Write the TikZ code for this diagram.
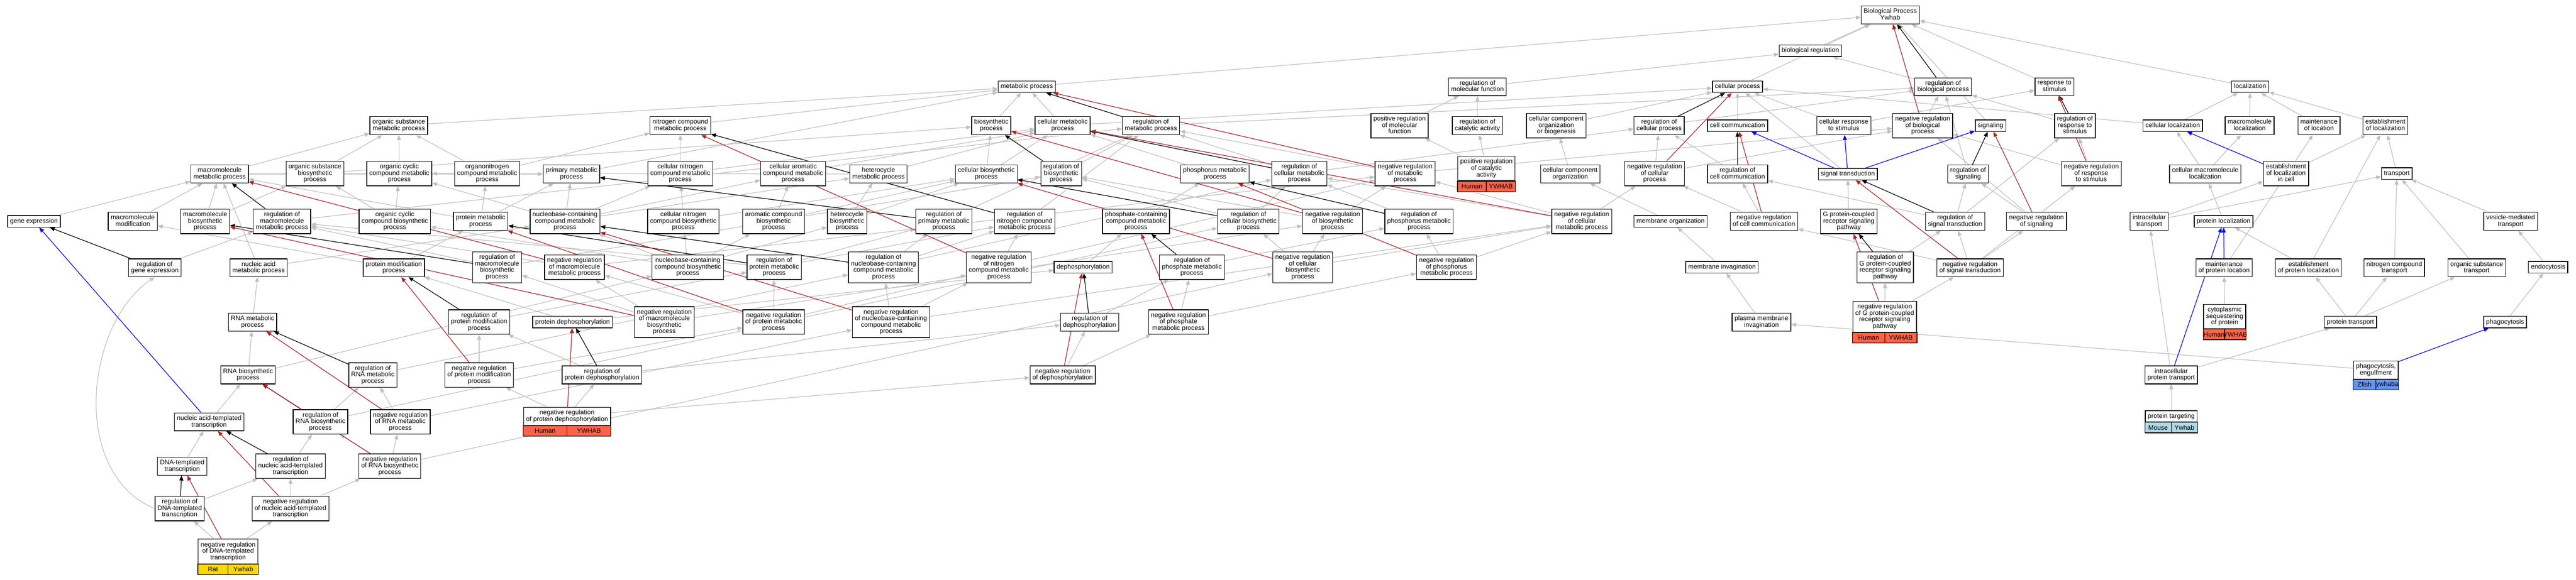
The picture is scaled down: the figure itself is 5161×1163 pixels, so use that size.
\documentclass[tikz,border=0pt]{standalone}
\usepackage{xcolor}
\usepackage{fontspec}
\setmainfont{Liberation Sans}
\usetikzlibrary{arrows.meta}
\usetikzlibrary{calc}
\usetikzlibrary{backgrounds}
\definecolor{isagray}{RGB}{192,192,192}
\definecolor{negred}{RGB}{178,34,34}
\definecolor{ratgold}{RGB}{255,215,0}
\definecolor{humanred}{RGB}{255,99,71}
\definecolor{fishblue}{RGB}{100,149,237}
\definecolor{mouseblue}{RGB}{173,216,230}
\newcommand{\gofont}{\fontsize{13}{13}\selectfont}
\newcommand{\gostrut}{\rule[-3pt]{0pt}{12.5pt}}
\tikzset{term/.style={draw=black, line width=1.4pt, fill=white, align=center, inner xsep=5pt, inner ysep=5.25pt, font=\gofont, execute at begin node=\gostrut, execute at end node=\gostrut}}
\tikzset{rowtext/.style={inner sep=0pt, font=\gofont}}
\tikzset{cellrow/.style={draw=black, line width=1.4pt}}
\tikzset{isa/.style={isagray, line width=1.3pt, -{Triangle[length=10pt, width=8pt]}}}
\tikzset{regs/.style={black, line width=1.3pt, -{Triangle[length=10pt, width=8pt]}}}
\tikzset{negregs/.style={negred, line width=1.3pt, -{Triangle[length=10pt, width=8pt]}}}
\tikzset{partof/.style={blue, line width=1.3pt, -{Triangle[length=10pt, width=8pt]}}}
% species row under an annotated term
\newcommand{\speciesrow}[4]{%
  \draw[cellrow, fill=#2] (#1.south west) rectangle ([yshift=-21pt]#1.south);
  \draw[cellrow, fill=#2] (#1.south) rectangle ([yshift=-21pt]#1.south east);
  \node[rowtext] (#1-sp) at ($(#1.south west)!0.5!([yshift=-21pt]#1.south)$) {#3};
  \node[rowtext] (#1-gene) at ($(#1.south)!0.5!([yshift=-21pt]#1.south east)$) {#4};}

\begin{document}
\begin{tikzpicture}[x=1pt, y=-1pt]
  \useasboundingbox (0,0) rectangle (5161,1163);
  %Top
  \node[term] (bp) at (3787,30) {Biological Process\\Ywhab};
  \node[term] (bioreg) at (3627,102) {biological regulation};
  \node[term] (metab) at (2057,174) {metabolic process};
  \node[term] (regmf) at (2960,174) {regulation of\\molecular function};
  \node[term] (cellp) at (3481,174) {cellular process};
  \node[term] (regbp) at (3893,174) {regulation of\\biological process};
  \node[term] (resp) at (4116,174) {response to\\stimulus};
  \node[term] (loc) at (4508,174) {localization};
  %Row 2
  \node[term] (osmp) at (799,252) {organic substance\\metabolic process};
  \node[term] (ncmp) at (1363,252) {nitrogen compound\\metabolic process};
  \node[term] (biosyn) at (1986,252) {biosynthetic\\process};
  \node[term] (cmp) at (2129,252) {cellular metabolic\\process};
  \node[term] (regmp) at (2306,252) {regulation of\\metabolic process};
  \node[term] (posregmf) at (2804,252) {positive regulation\\of molecular\\function};
  \node[term] (regcat) at (2960,252) {regulation of\\catalytic activity};
  \node[term] (ccob) at (3118,252) {cellular component\\organization\\or biogenesis};
  \node[term] (regcp) at (3324,252) {regulation of\\cellular process};
  \node[term] (cellcom) at (3481,252) {cell communication};
  \node[term] (cresp) at (3694,252) {cellular response\\to stimulus};
  \node[term] (negregbp) at (3852,252) {negative regulation\\of biological\\process};
  \node[term] (signaling) at (3988,252) {signaling};
  \node[term] (regresp) at (4157,252) {regulation of\\response to\\stimulus};
  \node[term] (cloc) at (4353,252) {cellular localization};
  \node[term] (mloc) at (4507,252) {macromolecule\\localization};
  \node[term] (mainloc) at (4646,252) {maintenance\\of location};
  \node[term] (estloc) at (4779,252) {establishment\\of localization};
  %Row 3
  \node[term] (mmp) at (440,349) {macromolecule\\metabolic process};
  \node[term] (osbp) at (631,348) {organic substance\\biosynthetic\\process};
  \node[term] (occmp) at (800,348) {organic cyclic\\compound metabolic\\process};
  \node[term] (oncmp) at (976,348) {organonitrogen\\compound metabolic\\process};
  \node[term] (pmp) at (1145,349) {primary metabolic\\process};
  \node[term] (cncmp) at (1363,348) {cellular nitrogen\\compound metabolic\\process};
  \node[term] (camp) at (1589,348) {cellular aromatic\\compound metabolic\\process};
  \node[term] (hmp) at (1760,349) {heterocycle\\metabolic process};
  \node[term] (cbp) at (1976,349) {cellular biosynthetic\\process};
  \node[term] (regbiosyn) at (2126,348) {regulation of\\biosynthetic\\process};
  \node[term] (phmp) at (2434,349) {phosphorus metabolic\\process};
  \node[term] (regcmp) at (2603,348) {regulation of\\cellular metabolic\\process};
  \node[term] (negregmp) at (2815,348) {negative regulation\\of metabolic\\process};
  \node[term] (posregcat) at (2978,338) {positive regulation\\of catalytic\\activity};
  \node[term] (cco) at (3146,349) {cellular component\\organization};
  \node[term] (negregcp) at (3315,348) {negative regulation\\of cellular\\process};
  \node[term] (regcc) at (3481,349) {regulation of\\cell communication};
  \node[term] (sigtr) at (3702,349) {signal transduction};
  \node[term] (regsig) at (3943,349) {regulation of\\signaling};
  \node[term] (negregresp) at (4190,348) {negative regulation\\of response\\to stimulus};
  \node[term] (cmloc) at (4418,349) {cellular macromolecule\\localization};
  \node[term] (estlocc) at (4580,348) {establishment\\of localization\\in cell};
  \node[term] (transport) at (4802,348) {transport};
  %Row 4
  \node[term] (geneexp) at (68,444) {gene expression};
  \node[term] (mmod) at (266,444) {macromolecule\\modification};
  \node[term] (mbp) at (411,444) {macromolecule\\biosynthetic\\process};
  \node[term] (regmmp) at (565,444) {regulation of\\macromolecule\\metabolic process};
  \node[term] (occbp) at (791,444) {organic cyclic\\compound biosynthetic\\process};
  \node[term] (protmp) at (963,444) {protein metabolic\\process};
  \node[term] (nbcmp) at (1132,444) {nucleobase-containing\\compound metabolic\\process};
  \node[term] (cncbp) at (1369,444) {cellular nitrogen\\compound biosynthetic\\process};
  \node[term] (acbp) at (1550,444) {aromatic compound\\biosynthetic\\process};
  \node[term] (hbp) at (1697,444) {heterocycle\\biosynthetic\\process};
  \node[term] (regpmp) at (1891,444) {regulation of\\primary metabolic\\process};
  \node[term] (regncmp) at (2053,444) {regulation of\\nitrogen compound\\metabolic process};
  \node[term] (pcmp) at (2276,444) {phosphate-containing\\compound metabolic\\process};
  \node[term] (regcbp) at (2501,444) {regulation of\\cellular biosynthetic\\process};
  \node[term] (negregbiosyn) at (2670,444) {negative regulation\\of biosynthetic\\process};
  \node[term] (regphmp) at (2843,444) {regulation of\\phosphorus metabolic\\process};
  \node[term] (negregcmp) at (3169,444) {negative regulation\\of cellular\\metabolic process};
  \node[term] (memorg) at (3347,444) {membrane organization};
  \node[term] (negregcc) at (3534,444) {negative regulation\\of cell communication};
  \node[term] (gpcr) at (3704,444) {G protein-coupled\\receptor signaling\\pathway};
  \node[term] (regsigtr) at (3917,444) {regulation of\\signal transduction};
  \node[term] (negregsig) at (4080,444) {negative regulation\\of signaling};
  \node[term] (inttr) at (4306,444) {intracellular\\transport};
  \node[term] (protloc) at (4455,444) {protein localization};
  \node[term] (vesic) at (5030,444) {vesicle-mediated\\transport};
  %Row 5
  \node[term] (reggene) at (310,537) {regulation of\\gene expression};
  \node[term] (namp) at (518,537) {nucleic acid\\metabolic process};
  \node[term] (pmod) at (789,537) {protein modification\\process};
  \node[term] (regmbp) at (996,536) {regulation of\\macromolecule\\biosynthetic\\process};
  \node[term] (negregmmp) at (1151,536) {negative regulation\\of macromolecule\\metabolic process};
  \node[term] (nbcbp) at (1378,536) {nucleobase-containing\\compound biosynthetic\\process};
  \node[term] (regprotmp) at (1551,536) {regulation of\\protein metabolic\\process};
  \node[term] (regnbcmp) at (1770,536) {regulation of\\nucleobase-containing\\compound metabolic\\process};
  \node[term] (negregncmp) at (2001,536) {negative regulation\\of nitrogen\\compound metabolic\\process};
  \node[term] (dephos) at (2170,536) {dephosphorylation};
  \node[term] (regphos) at (2388,536) {regulation of\\phosphate metabolic\\process};
  \node[term] (negregcbp) at (2610,536) {negative regulation\\of cellular\\biosynthetic\\process};
  \node[term] (negregphmp) at (2898,536) {negative regulation\\of phosphorus\\metabolic process};
  \node[term] (meminv) at (3450,536) {membrane invagination};
  \node[term] (reggpcr) at (3777,536) {regulation of\\G protein-coupled\\receptor signaling\\pathway};
  \node[term] (negregsigtr) at (3947,537) {negative regulation\\of signal transduction};
  \node[term] (mainprot) at (4456,537) {maintenance\\of protein location};
  \node[term] (estprot) at (4625,537) {establishment\\of protein localization};
  \node[term] (nctr) at (4797,537) {nitrogen compound\\transport};
  \node[term] (ostr) at (4962,537) {organic substance\\transport};
  \node[term] (endo) at (5105,536) {endocytosis};
  %Row 6
  \node[term] (rnamp) at (506,646) {RNA metabolic\\process};
  \node[term] (regpmod) at (960,646) {regulation of\\protein modification\\process};
  \node[term] (protdephos) at (1147,646) {protein dephosphorylation};
  \node[term] (negregmbp) at (1331,646) {negative regulation\\of macromolecule\\biosynthetic\\process};
  \node[term] (negregprotmp) at (1550,646) {negative regulation\\of protein metabolic\\process};
  \node[term] (negregnbcmp) at (1785,646) {negative regulation\\of nucleobase-containing\\compound metabolic\\process};
  \node[term] (regdephos) at (2183,646) {regulation of\\dephosphorylation};
  \node[term] (negregphos) at (2361,646) {negative regulation\\of phosphate\\metabolic process};
  \node[term] (pmeminv) at (3529,646) {plasma membrane\\invagination};
  \node[term] (negreggpcr) at (3776,635) {negative regulation\\of G protein-coupled\\receptor signaling\\pathway};
  \node[term] (cytoseq) at (4457,635) {cytoplasmic\\sequestering\\of protein};
  \node[term] (prottr) at (4709,646) {protein transport};
  \node[term] (phago) at (5019,646) {phagocytosis};
  %Row 7
  \node[term] (rnabp) at (497,752) {RNA biosynthetic\\process};
  \node[term] (regrnamp) at (747,752) {regulation of\\RNA metabolic\\process};
  \node[term] (negregpmod) at (960,752) {negative regulation\\of protein modification\\process};
  \node[term] (regprotdephos) at (1206,752) {regulation of\\protein dephosphorylation};
  \node[term] (negregdephos) at (2129,752) {negative regulation\\of dephosphorylation};
  \node[term] (intprottr) at (4350,752) {intracellular\\protein transport};
  \node[term] (engulf) at (4760,742) {phagocytosis,\\engulfment};
  %Row 8
  \node[term] (natr) at (419,846) {nucleic acid-templated\\transcription};
  \node[term] (regrnabp) at (642,846) {regulation of\\RNA biosynthetic\\process};
  \node[term] (negregrnamp) at (802,846) {negative regulation\\of RNA metabolic\\process};
  \node[term] (negregprotdephos) at (1136,835) {negative regulation\\of protein dephosphorylation};
  \node[term] (prottarg) at (4350,835) {protein targeting};
  %Rows 9-11
  \node[term] (dnatr) at (365,935) {DNA-templated\\transcription};
  \node[term] (regnatr) at (582,935) {regulation of\\nucleic acid-templated\\transcription};
  \node[term] (negregrnabp) at (781,935) {negative regulation\\of RNA biosynthetic\\process};
  \node[term] (regdnatr) at (360,1020) {regulation of\\DNA-templated\\transcription};
  \node[term] (negregnatr) at (582,1020) {negative regulation\\of nucleic acid-templated\\transcription};
  \node[term] (negregdnatr) at (457,1106) {negative regulation\\of DNA-templated\\transcription};
  %Species rows
  \speciesrow{negregdnatr}{ratgold}{Rat}{Ywhab}
  \speciesrow{negregprotdephos}{humanred}{Human}{YWHAB}
  \speciesrow{posregcat}{humanred}{Human}{YWHAB}
  \speciesrow{negreggpcr}{humanred}{Human}{YWHAB}
  \speciesrow{cytoseq}{humanred}{Human}{YWHAB}
  \speciesrow{engulf}{fishblue}{Zfish}{ywhaba}
  \speciesrow{prottarg}{mouseblue}{Mouse}{Ywhab}
  %Edges
  \begin{scope}[on background layer]
    \foreach \a/\b in {bioreg/bp, cellp/bp, metab/bp, resp/bp, loc/bp, signaling/bp,
      regbp/bioreg, regmf/bioreg, osmp/metab, ncmp/metab, biosyn/metab, cmp/metab, pmp/metab,
      cmp/cellp, regmp/regbp, posregmf/regmf, regcat/regmf, ccob/cellp, regcp/regbp, cellcom/cellp,
      cresp/resp, cresp/cellp, negregbp/regbp, regresp/regbp, cloc/loc, cloc/cellp, mloc/loc,
      mainloc/loc, estloc/loc, mmp/osmp, mmp/pmp, osbp/osmp, osbp/biosyn, occmp/osmp, oncmp/osmp,
      oncmp/ncmp, cncmp/ncmp, cncmp/cmp, camp/cmp, hmp/occmp, hmp/cmp, cbp/biosyn, cbp/cmp,
      regbiosyn/regmp, phmp/cmp, regcmp/regmp, regcmp/regcp, negregmp/regmp, negregmp/negregbp,
      posregcat/regcat, posregcat/posregmf, cco/ccob, negregcp/regcp, negregcp/negregbp, regcc/regcp,
      sigtr/cellp, regsig/regbp, negregresp/regresp, negregresp/negregbp, cmloc/cloc, cmloc/mloc,
      estlocc/estloc, transport/estloc, geneexp/mmp, mmod/mmp, mbp/mmp, mbp/osbp, regmmp/regmp,
      occbp/occmp, occbp/osbp, protmp/oncmp, protmp/pmp, protmp/mmp, nbcmp/pmp, nbcmp/cncmp,
      nbcmp/camp, nbcmp/hmp, nbcmp/occmp, cncbp/cncmp, cncbp/cbp, acbp/camp, acbp/cbp, hbp/hmp,
      hbp/cbp, regpmp/regmp, regncmp/regmp, pcmp/phmp, regcbp/regbiosyn, regcbp/regcmp,
      negregbiosyn/regbiosyn, negregbiosyn/negregmp, regphmp/regcmp, negregcmp/negregcp,
      negregcmp/regcmp, negregcmp/negregmp, memorg/cco, negregcc/regcc, negregcc/negregcp,
      gpcr/sigtr, regsigtr/regcc, regsigtr/regsig, regsigtr/regresp, negregsig/regsig,
      negregsig/negregbp, inttr/transport, inttr/estlocc, protloc/cmloc, vesic/transport,
      reggene/regmmp, namp/nbcmp, namp/mmp, pmod/protmp, pmod/mmod, regmbp/regmmp, regmbp/regbiosyn,
      negregmmp/regmmp, negregmmp/negregmp, nbcbp/nbcmp, nbcbp/cncbp, nbcbp/acbp, nbcbp/hbp,
      nbcbp/occbp, regprotmp/regmmp, regprotmp/regpmp, regprotmp/regncmp, regnbcmp/regcmp,
      regnbcmp/regncmp, regnbcmp/regpmp, negregncmp/regncmp, negregncmp/negregmp, dephos/pcmp,
      regphos/regphmp, negregcbp/regcbp, negregcbp/negregbiosyn, negregcbp/negregcmp,
      negregphmp/regphmp, negregphmp/negregcmp, meminv/memorg, reggpcr/regsigtr,
      negregsigtr/regsigtr, negregsigtr/negregsig, negregsigtr/negregcc, negregsigtr/negregresp,
      mainprot/mainloc, estprot/protloc, estprot/estloc, nctr/transport, ostr/transport, endo/vesic,
      rnamp/namp, regpmod/regprotmp, protdephos/pmod, protdephos/dephos, negregmbp/regmbp,
      negregmbp/negregmmp, negregmbp/negregbiosyn, negregprotmp/regprotmp, negregprotmp/negregmmp,
      negregprotmp/negregncmp, negregnbcmp/regnbcmp, negregnbcmp/negregcmp, negregnbcmp/negregncmp,
      regdephos/regphos, negregphos/regphos, negregphos/negregphmp, pmeminv/meminv,
      negreggpcr/reggpcr, negreggpcr/negregsigtr, cytoseq/mainprot, prottr/estprot, prottr/nctr,
      prottr/ostr, phago/endo, rnabp/rnamp, rnabp/nbcbp, regrnamp/regnbcmp, negregpmod/regpmod,
      negregpmod/negregprotmp, regprotdephos/regpmod, regprotdephos/regdephos,
      negregdephos/regdephos, negregdephos/negregphos, intprottr/prottr, intprottr/inttr,
      engulf/pmeminv, natr/rnabp, regrnabp/regrnamp, regrnabp/regcbp, negregrnamp/regrnamp,
      negregrnamp/negregnbcmp, negregprotdephos/regprotdephos, negregprotdephos/negregpmod,
      negregprotdephos/negregdephos, prottarg/intprottr, dnatr/natr, regnatr/regrnabp,
      negregrnabp/regrnabp, negregrnabp/negregrnamp, negregrnabp/negregcbp, regdnatr/regnatr,
      negregnatr/regnatr, negregnatr/negregrnabp, negregdnatr/regdnatr,
      negregdnatr/negregnatr}
      \draw[isa] (\a) -- (\b);
    \draw[isa] (regdnatr.west) .. controls (140,950) and (170,650) .. (reggene.south);
    \foreach \a/\b in {regbp/bp, regmp/metab, regcp/cellp, regresp/resp, regbiosyn/biosyn,
      regcmp/cmp, regcc/cellcom, regsig/signaling, regmmp/mmp, regpmp/pmp, regncmp/ncmp,
      regcbp/cbp, regphmp/phmp, regsigtr/sigtr, reggene/geneexp, regmbp/mbp, regprotmp/protmp,
      regnbcmp/nbcmp, regphos/pcmp, reggpcr/gpcr, regpmod/pmod, regdephos/dephos,
      regrnamp/rnamp, regprotdephos/protdephos, regrnabp/rnabp, regnatr/natr, regdnatr/dnatr}
      \draw[regs] (\a) -- (\b);
    \foreach \a/\b in {negregbp/bp, negregmp/metab, negregcp/cellp, negregresp/resp,
      negregbiosyn/biosyn, negregcmp/cmp, negregcc/cellcom, negregsig/signaling, negregmmp/mmp,
      negregncmp/ncmp, negregcbp/cbp, negregphmp/phmp, negregsigtr/sigtr, negregmbp/mbp,
      negregprotmp/protmp, negregnbcmp/nbcmp, negregphos/pcmp, negreggpcr/gpcr, negregpmod/pmod,
      negregdephos/dephos, negregrnamp/rnamp, negregprotdephos/protdephos, negregrnabp/rnabp,
      negregnatr/natr, negregdnatr/dnatr}
      \draw[negregs] (\a) -- (\b);
    \foreach \a/\b in {natr/geneexp, sigtr/cellcom, sigtr/cresp, sigtr/signaling,
      estlocc/cloc, mainprot/protloc, intprottr/protloc, engulf/phago}
      \draw[partof] (\a) -- (\b);
  \end{scope}
\end{tikzpicture}
\end{document}
